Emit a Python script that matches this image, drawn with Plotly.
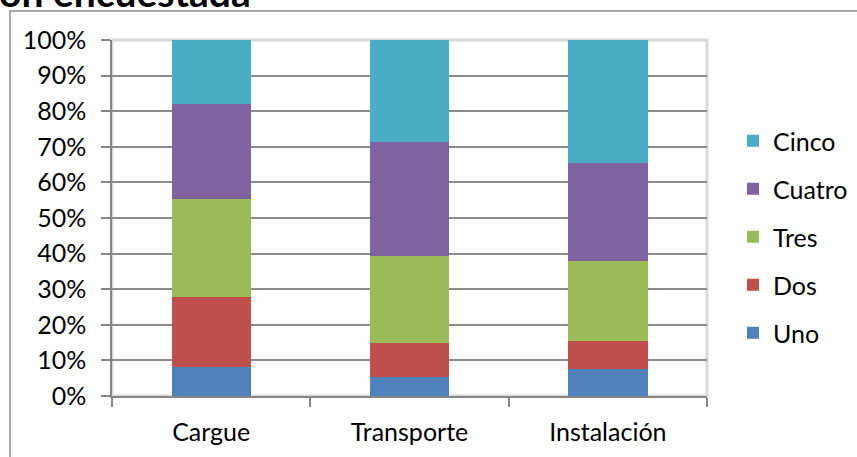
import plotly.graph_objects as go

# Survey response shares (%) by stage
categorias = ["Cargue", "Transporte", "Instalación"]
uno = [8.1, 5.3, 7.5]
dos = [19.6, 9.5, 8.0]
tres = [27.6, 24.5, 22.3]
cuatro = [26.7, 32.1, 27.6]
cinco = [18.0, 28.6, 34.6]

ticks_y = list(range(0, 101, 10))
etiquetas_y = [f"{v}%" for v in ticks_y]

series = [
    ("Uno", uno, "#4F81BD"),
    ("Dos", dos, "#C0504D"),
    ("Tres", tres, "#9BBB59"),
    ("Cuatro", cuatro, "#8064A2"),
    ("Cinco", cinco, "#4BACC6"),
]

FONT = "Lato"
FS = 25
W, H = 857, 457
L, R, T, B = 112, 150, 40, 61
pw, ph = W - L - R, H - T - B

fig = go.Figure()
for i, (nombre, valores, color) in enumerate(series):
    fig.add_trace(go.Bar(
        x=categorias, y=valores, name=nombre, legendgroup=nombre,
        legendrank=len(series) - i,
        marker=dict(color=color, line=dict(width=0)),
        width=0.4,
    ))

def px_x(px):
    return (px - L) / pw

def px_y(py):
    return (H - B - py) / ph

fig.update_layout(
    width=W, height=H,
    margin=dict(l=L, r=R, t=T, b=B, autoexpand=False),
    barmode="stack",
    paper_bgcolor="white", plot_bgcolor="white",
    font=dict(family=FONT, color="#000000", size=FS),
    showlegend=True,
    legend=dict(
        traceorder="grouped",
        tracegroupgap=12.5,
        x=px_x(733), xanchor="left",
        y=px_y(118), yanchor="top",
        font=dict(size=FS, family=FONT),
        bgcolor="rgba(0,0,0,0)",
    ),
    xaxis=dict(
        showline=True, linecolor="#868686", linewidth=1.5,
        ticks="outside", ticklen=9, tickcolor="#868686", tickwidth=1.5,
        tickson="boundaries",
        showgrid=False, zeroline=False,
        tickfont=dict(size=FS, family=FONT),
        ticklabelstandoff=13,
        fixedrange=True,
    ),
    yaxis=dict(
        range=[0, 100], tickvals=ticks_y, ticktext=etiquetas_y,
        showline=True, linecolor="#868686", linewidth=1.5,
        ticks="outside", ticklen=9, tickcolor="#868686", tickwidth=1.5,
        showgrid=True, gridcolor="#8c8c8c", gridwidth=1.5,
        zeroline=False,
        tickfont=dict(size=FS, family=FONT),
        ticklabelstandoff=10,
        fixedrange=True,
    ),
    shapes=[
        # light plot-area frame
        dict(type="rect", xref="paper", yref="paper", x0=0, x1=1, y0=0, y1=1,
             line=dict(color="#d9d9d9", width=3), layer="below"),
        # outer chart border (runs off the right and bottom edges)
        dict(type="rect", xref="paper", yref="paper",
             x0=px_x(10), x1=px_x(W + 20), y0=px_y(H + 20), y1=px_y(11),
             line=dict(color="#8c8c8c", width=1.5), layer="below"),
    ],
    annotations=[
        dict(text="<b>ón encuestada</b>", xref="paper", yref="paper",
             x=px_x(-3), y=px_y(-8), xanchor="left", yanchor="middle",
             showarrow=False, font=dict(size=39, family=FONT, color="#000000")),
    ],
)

fig.write_html("out.html")
